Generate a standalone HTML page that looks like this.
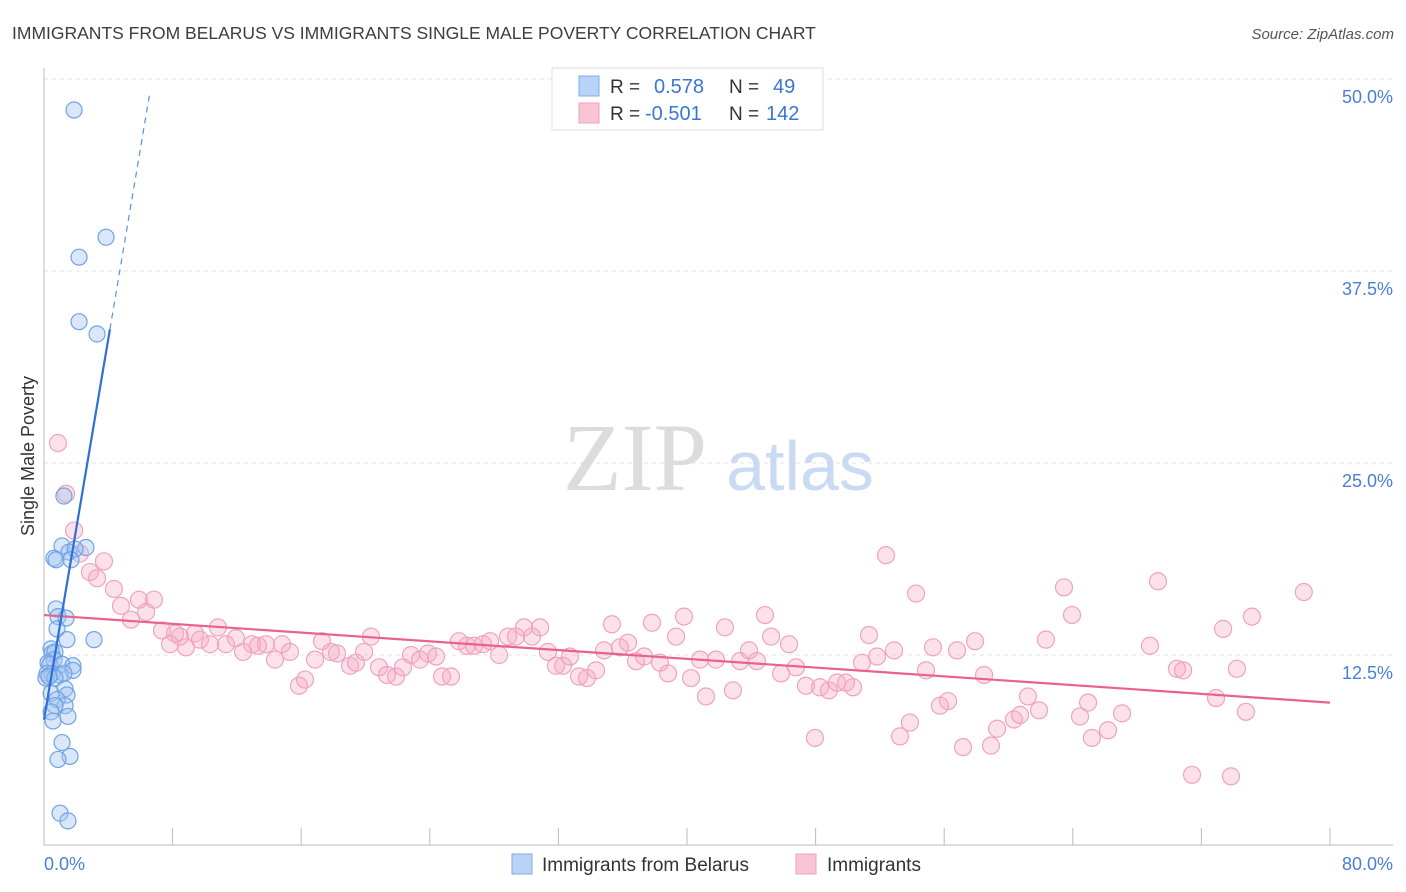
<!DOCTYPE html>
<html><head><meta charset="utf-8"><style>
body{margin:0;background:#fff;font-family:"Liberation Sans",sans-serif;}
svg{display:block}
</style></head><body>
<svg id="chart" width="1406" height="892" viewBox="0 0 1406 892" xmlns="http://www.w3.org/2000/svg">
<text x="12" y="39" font-size="17.5" fill="#3d3d3d" font-family="Liberation Sans, sans-serif">IMMIGRANTS FROM BELARUS VS IMMIGRANTS SINGLE MALE POVERTY CORRELATION CHART</text>
<text x="1394" y="39" font-size="15" fill="#555" font-style="italic" text-anchor="end">Source: ZipAtlas.com</text>
<g id="grid"></g>
<g>
<text x="635" y="490" font-size="96" fill="#dcdcdc" font-family="Liberation Serif, serif" text-anchor="middle">ZIP</text>
<text x="800" y="490" font-size="70" fill="#c9daf2" text-anchor="middle">atlas</text>
</g>
<line x1="44" y1="68" x2="44" y2="845" stroke="#bbb" stroke-width="1"/>
<line x1="44" y1="845" x2="1393" y2="845" stroke="#bbb" stroke-width="1"/>
<g id="xticks"></g>
<text transform="translate(34,456) rotate(-90)" font-size="18" fill="#333" text-anchor="middle">Single Male Poverty</text>
<text x="44" y="870" font-size="18" fill="#4a7fd4">0.0%</text>
<text x="1393" y="870" font-size="18" fill="#4a7fd4" text-anchor="end">80.0%</text>
<g id="pink"></g>
<g id="blue"></g>
<g id="trends"></g>
<g>
<rect x="552" y="68" width="271" height="62" fill="#fff" stroke="#ddd"/>
<rect x="579" y="76" width="20" height="20" fill="#b8d3f5" stroke="#7aaee8"/>
<rect x="579" y="103" width="20" height="20" fill="#f9c4d5" stroke="#f0a0bc"/>
<text x="610" y="93" font-size="19" fill="#333">R = </text><text x="654" y="93" font-size="20" fill="#3a76d4">0.578</text>
<text x="729" y="93" font-size="19" fill="#333">N = </text><text x="773" y="93" font-size="20" fill="#3a76d4">49</text>
<text x="610" y="120" font-size="19" fill="#333">R = </text><text x="645" y="120" font-size="20" fill="#3a76d4">-0.501</text>
<text x="729" y="120" font-size="19" fill="#333">N = </text><text x="766" y="120" font-size="20" fill="#3a76d4">142</text>
</g>
<g>
<rect x="512" y="854" width="20" height="20" fill="#b8d3f5" stroke="#7aaee8"/>
<text x="542" y="871" font-size="19" fill="#333">Immigrants from Belarus</text>
<rect x="796" y="854" width="20" height="20" fill="#f9c4d5" stroke="#f0a0bc"/>
<text x="827" y="871" font-size="19" fill="#333">Immigrants</text>
</g>
</svg>
<script>
const yTicks=[12.5,25,37.5,50];
const yTickLabels=["12.5%","25.0%","37.5%","50.0%"];
const xTickVals=[0,8,16,24,32,40,48,56,64,72,80];
const blueX=[1.87,3.86,2.18,2.18,3.30,1.24,1.12,2.61,1.56,1.93,0.62,0.75,1.68,0.75,0.87,1.37,0.81,1.43,3.11,0.44,0.50,0.68,0.62,0.25,0.37,1.12,1.80,1.80,0.19,0.50,1.00,1.24,0.12,0.68,1.31,1.43,0.44,0.81,1.31,0.68,0.44,1.49,0.56,1.12,1.62,0.87,1.00,1.49,0.31];
const blueY=[47.98,39.7,38.4,34.2,33.4,22.85,19.6,19.5,19.2,19.4,18.8,18.7,18.7,15.5,15.0,14.9,14.2,13.5,13.5,12.9,12.6,12.7,12.2,12.0,11.9,11.9,11.8,11.5,11.3,11.3,11.2,11.3,11.0,11.0,10.3,9.9,10.0,9.6,9.2,9.2,8.8,8.5,8.2,6.8,5.9,5.7,2.2,1.7,11.1];
const pinkX=[0.87,1.37,1.87,2.24,3.73,2.86,3.30,4.35,4.79,5.91,6.84,6.35,5.41,7.34,8.15,8.46,7.84,8.83,9.39,9.70,10.33,10.82,11.32,11.94,12.38,12.94,13.31,13.81,14.37,14.81,15.30,15.86,16.24,16.86,17.29,17.85,18.23,19.04,19.41,19.91,20.34,20.84,21.34,21.90,22.33,22.83,23.39,23.89,24.39,24.76,25.32,25.81,26.31,26.75,27.31,27.75,28.31,28.87,29.36,29.86,30.36,30.86,31.35,31.85,32.29,32.72,33.28,33.78,34.34,34.84,35.33,35.83,36.33,36.83,37.33,37.82,38.32,38.82,39.32,39.81,40.25,40.81,41.18,41.80,42.36,42.86,43.30,43.86,44.35,44.85,45.23,45.85,46.35,46.78,47.40,47.96,48.27,48.83,49.33,49.89,50.33,50.89,51.32,51.82,52.38,52.88,53.25,53.87,54.25,54.87,55.30,55.74,56.24,56.80,57.17,57.92,58.48,58.91,59.29,60.34,60.72,61.21,61.90,62.33,63.45,63.95,64.45,64.95,65.19,66.19,67.06,68.80,69.30,70.48,70.86,71.42,72.91,73.35,73.84,74.21,74.77,75.14,78.37];
const pinkY=[26.3,23.0,20.6,19.1,18.6,17.9,17.5,16.8,15.7,16.1,16.1,15.3,14.8,14.1,13.9,13.7,13.2,13.0,13.9,13.5,13.2,14.3,13.2,13.6,12.7,13.2,13.1,13.2,12.2,13.2,12.7,10.5,10.9,12.2,13.4,12.7,12.6,11.8,12.0,12.7,13.7,11.7,11.2,11.1,11.7,12.5,12.2,12.6,12.4,11.1,11.1,13.4,13.1,13.1,13.2,13.4,12.5,13.7,13.7,14.3,13.7,14.3,12.7,11.8,11.8,12.4,11.1,11.0,11.5,12.8,14.5,13.0,13.3,12.1,12.4,14.6,12.0,11.3,13.7,15.0,11.0,12.2,9.8,12.2,14.3,10.2,12.1,12.8,12.1,15.1,13.7,11.3,13.2,11.7,10.5,7.1,10.4,10.2,10.7,10.7,10.4,12.0,13.8,12.4,19.0,12.8,7.2,8.1,16.5,11.5,13.0,9.2,9.5,12.8,6.5,13.4,11.2,6.6,7.7,8.3,8.6,9.8,8.9,13.5,16.9,15.1,8.5,9.4,7.1,7.6,8.7,13.1,17.3,11.6,11.5,4.7,9.7,14.2,4.6,11.6,8.8,15.0,16.6];
const blueTrend=[0,8.3,4.1,33.7,6.6,49.2]; // x0,y0,xSolidEnd,ySolidEnd,xDashEnd,yDashEnd
const pinkTrend=[0,15.1,80,9.4];
const NS="http://www.w3.org/2000/svg";
const X=v=>44+v/80*1286, Y=v=>847-v/50*768;
function mk(t,p,a){const e=document.createElementNS(NS,t);for(const k in a)e.setAttribute(k,a[k]);p.appendChild(e);return e;}
const grid=document.getElementById('grid');
yTicks.forEach((t,i)=>{
 const l=mk('line',grid,{x1:44,x2:1393,y1:Y(t),y2:Y(t),stroke:'#e3e3e3','stroke-dasharray':'4,4'});
 
 
 const tx=mk('text',grid,{x:1393,y:Y(t)+24,'font-size':18,fill:'#4a7fd4','text-anchor':'end'});
 tx.textContent=yTickLabels[i];
 
 
});
const xt=document.getElementById('xticks');
xTickVals.slice(1).forEach(v=>{
 const l=mk('line',xt,{x1:X(v),x2:X(v),y1:828,y2:845,stroke:'#bbb'});
 
 
});
const pg=document.getElementById('pink');
pinkX.forEach((x,i)=>{
 const c=mk('circle',pg,{cx:X(x),cy:Y(pinkY[i]),r:8.5,fill:'rgba(246,170,196,0.35)',stroke:'#f0a3bf','stroke-width':1.2});
 
 
});
const bg=document.getElementById('blue');
blueX.forEach((x,i)=>{
 const c=mk('circle',bg,{cx:X(x),cy:Y(blueY[i]),r:8,fill:'rgba(160,196,240,0.4)',stroke:'#6fa3e6','stroke-width':1.2});
 
 
});
const tg=document.getElementById('trends');
const pl=mk('line',tg,{x1:X(pinkTrend[0]),y1:Y(pinkTrend[1]),x2:X(pinkTrend[2]),y2:Y(pinkTrend[3]),stroke:'#e8628f','stroke-width':2.2});


const bl=mk('line',tg,{x1:X(blueTrend[0]),y1:Y(blueTrend[1]),x2:X(blueTrend[2]),y2:Y(blueTrend[3]),stroke:'#2f6fd6','stroke-width':2.2});


const bd=mk('line',tg,{x1:X(blueTrend[2]),y1:Y(blueTrend[3]),x2:X(blueTrend[4]),y2:Y(blueTrend[5]),stroke:'#5a8fe0','stroke-width':1.2,'stroke-dasharray':'6,5'});


</script>
</body></html>
